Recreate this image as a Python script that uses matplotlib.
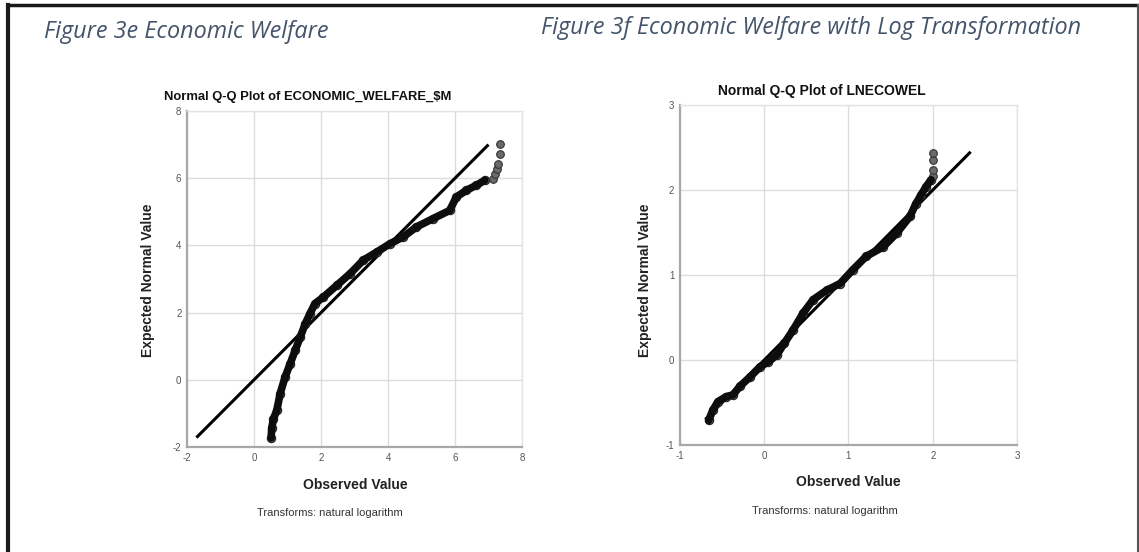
import numpy as np
import matplotlib.pyplot as plt
from matplotlib.lines import Line2D

obs_raw = [0.51, 0.53, 0.58, 0.68, 0.78, 0.93, 1.08, 1.23, 1.38, 1.53, 1.67, 1.82,
           2.07, 2.47, 2.87, 3.26, 3.66, 4.06, 4.45, 4.85, 5.35, 5.84, 6.04, 6.34,
           6.64, 6.89]
exp_raw = [-1.73, -1.43, -1.16, -0.91, -0.41, 0.09, 0.48, 0.88, 1.27, 1.67, 1.97, 2.27,
           2.46, 2.81, 3.16, 3.56, 3.80, 4.05, 4.25, 4.55, 4.80, 5.04, 5.44, 5.64,
           5.79, 5.94]
obs_raw_tail = [7.14, 7.19, 7.24, 7.29, 7.33, 7.33]
exp_raw_tail = [5.99, 6.14, 6.28, 6.43, 6.73, 7.03]
ref_raw = [-1.72, 7.0]

obs_log = [-0.66, -0.61, -0.55, -0.45, -0.37, -0.29, -0.17, -0.05, 0.05, 0.15, 0.24,
           0.34, 0.46, 0.58, 0.74, 0.90, 1.05, 1.21, 1.41, 1.57, 1.73, 1.80, 1.86,
           1.92, 1.98]
exp_log = [-0.71, -0.59, -0.49, -0.43, -0.41, -0.31, -0.20, -0.08, -0.02, 0.06, 0.20,
           0.35, 0.55, 0.71, 0.82, 0.90, 1.06, 1.22, 1.33, 1.49, 1.69, 1.84, 1.94,
           2.04, 2.12]
obs_log_tail = [2.00, 2.00, 2.00, 2.00]
exp_log_tail = [2.17, 2.24, 2.35, 2.44]
ref_log = [-0.70, 2.45]

raw_ticks = [-2, 0, 2, 4, 6, 8]
log_ticks = [-1, 0, 1, 2, 3]

plt.rcParams['font.family'] = ['Liberation Sans', 'DejaVu Sans']
plt.rcParams['axes.unicode_minus'] = False

W, H = 1139, 552
def px(x, y):
    return x / W, 1 - y / H

fig = plt.figure(figsize=(11.39, 5.52), dpi=100)

def qq_panel(rect, obs, exp, obs_tail, exp_tail, ref, ticks):
    ax = fig.add_axes(rect)
    ax.plot(ref, ref, color='black', lw=2.2, solid_capstyle='butt', zorder=3)
    ax.plot(obs, exp, lw=0, marker='o', ms=6, mfc='#666666', mec='#222222',
            mew=0.8, zorder=4)
    ax.plot(obs, exp, color='#0d0d0d', lw=5.5, solid_capstyle='round', zorder=5)
    ax.plot(obs_tail, exp_tail, lw=0, marker='o', ms=5.5, mfc='#6a6a6a',
            mec='#333333', mew=0.8, zorder=4)
    ax.set_xlim(ticks[0], ticks[-1])
    ax.set_ylim(ticks[0], ticks[-1])
    ax.set_xticks(ticks)
    ax.set_yticks(ticks)
    ax.grid(True, color='#dcdcdc', lw=1)
    ax.set_axisbelow(True)
    for s in ['top', 'right']:
        ax.spines[s].set_color('#e4e4e4')
        ax.spines[s].set_linewidth(1)
    for s in ['left', 'bottom']:
        ax.spines[s].set_color('#a8a8a8')
        ax.spines[s].set_linewidth(1.6)
    ax.tick_params(length=0, labelsize=7, labelcolor='#555555', pad=4)
    return ax

qq_panel([0.1642, 0.1902, 0.2941, 0.6087], obs_raw, exp_raw, obs_raw_tail,
         exp_raw_tail, ref_raw, raw_ticks)
qq_panel([0.5970, 0.1938, 0.2959, 0.6159], obs_log, exp_log, obs_log_tail,
         exp_log_tail, ref_log, log_ticks)

ttl = dict(fontweight='bold', color='#111111', ha='center', va='center')
fig.text(*px(308, 97), 'Normal Q-Q Plot of ECONOMIC_WELFARE_\\$M', fontsize=9.4, **ttl)
fig.text(*px(822, 91), 'Normal Q-Q Plot of LNECOWEL', fontsize=10, **ttl)

lab = dict(fontsize=10, fontweight='bold', color='#222222', ha='center', va='center')
fig.text(*px(148, 280), 'Expected Normal Value', rotation=90, **lab)
fig.text(*px(645, 280), 'Expected Normal Value', rotation=90, **lab)
fig.text(*px(355, 485), 'Observed Value', **lab)
fig.text(*px(848, 482), 'Observed Value', **lab)
fig.text(*px(330, 513), 'Transforms: natural logarithm', fontsize=8, color='#333333',
         ha='center', va='center')
fig.text(*px(825, 511), 'Transforms: natural logarithm', fontsize=8, color='#333333',
         ha='center', va='center')

head = dict(fontsize=16.8, fontstyle='italic', color='#44546a', family='Open Sans',
            va='center')
fig.text(*px(44, 32), 'Figure 3e Economic Welfare', **head)
fig.text(*px(541, 28), 'Figure 3f Economic Welfare with Log Transformation', **head)

# outer frame of the screenshot
fig.add_artist(Line2D([8 / W, 8 / W], [0, 1 - 5 / H], color='#1a1a1a', lw=3))
fig.add_artist(Line2D([8 / W, 1137.5 / W], [1 - 5 / H, 1 - 5 / H], color='#1a1a1a', lw=2.5))
fig.add_artist(Line2D([1137.5 / W, 1137.5 / W], [0, 1 - 5 / H], color='#555555', lw=1.5))

fig.savefig('out.png', dpi=100)
